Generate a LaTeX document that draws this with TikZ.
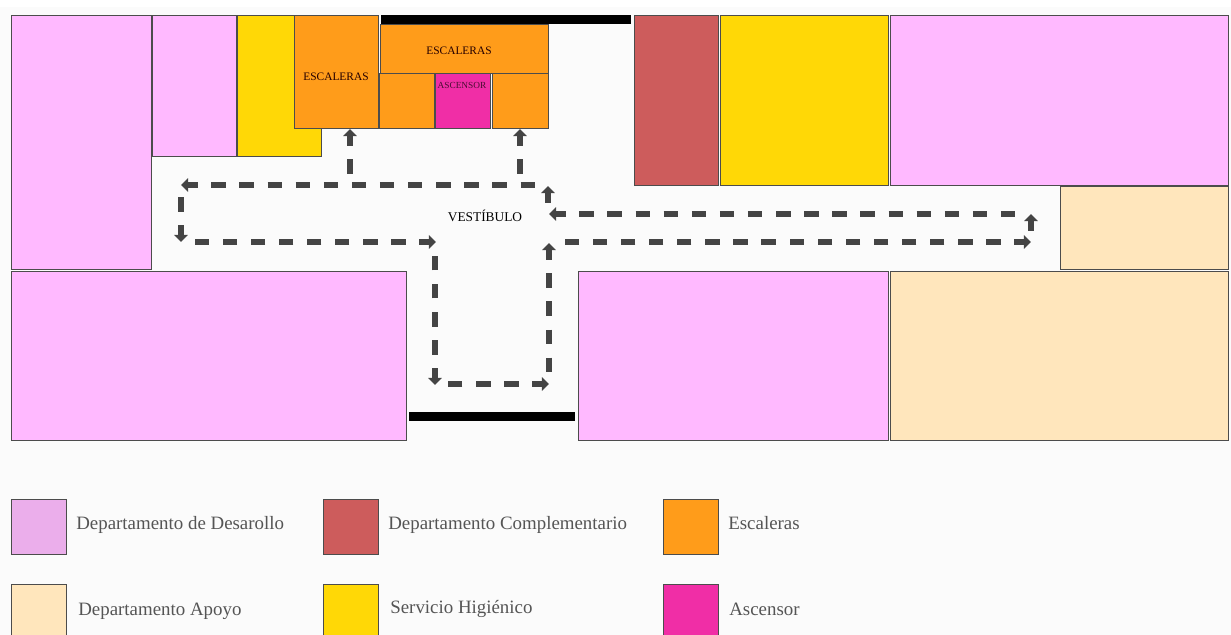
\documentclass[tikz,border=0pt]{standalone}
\usepackage{fontspec}
\setmainfont{Liberation Serif}
\usetikzlibrary{arrows.meta}
\definecolor{desarollo}{HTML}{FFB9FF}
\definecolor{desarolloley}{HTML}{EBAEEB}
\definecolor{complement}{HTML}{CD5C5C}
\definecolor{higienico}{HTML}{FFD806}
\definecolor{escalera}{HTML}{FF9C1A}
\definecolor{ascensor}{HTML}{F02EA6}
\definecolor{apoyo}{HTML}{FFE6BC}
\definecolor{fondo}{HTML}{FBFBFB}
\definecolor{ruta}{HTML}{444444}
\definecolor{leytext}{HTML}{555555}
\begin{document}
\begin{tikzpicture}[x=0.02cm,y=0.02cm]
		\tikzstyle{every node}+=[inner sep=0pt]
		\tikzstyle{room}=[draw=black!70,line width=0.5pt]
		\tikzstyle{wall}=[fill=black]
		\tikzstyle{route}=[draw=ruta,line width=3pt,dash pattern=on 8.2pt off 7.8pt,dash phase=2.5pt,{Triangle[length=4pt,width=7.5pt]}-]
		\tikzstyle{plain}=[font=\fontsize{6.5pt}{8pt}\selectfont,text=black!85!red]
		\tikzstyle{legend}=[anchor=west,font=\fontsize{10.75pt}{12pt}\selectfont,text=leytext]
		\fill [white] (0,0) rectangle (1231,-7);
		\fill [fondo] (0,-7) rectangle (1231,-635);
		\useasboundingbox (0,0) rectangle (1231,-635);
		\clip (0,0) rectangle (1231,-635);
		% departamentos
		\draw [room,fill=desarollo] (11,-15) rectangle (151,-269);
		\draw [room,fill=desarollo] (152,-15) rectangle (236,-156);
		\draw [room,fill=higienico] (237,-15) rectangle (321,-156);
		\draw [room,fill=escalera] (294,-15) rectangle (378,-128);
		\draw [room,fill=escalera] (380,-24) rectangle (548,-73);
		\draw [room,fill=escalera] (379,-73) rectangle (434,-128);
		\draw [room,fill=ascensor] (435,-73) rectangle (490,-128);
		\draw [room,fill=escalera] (492,-73) rectangle (548,-128);
		\draw [room,fill=complement] (634,-15) rectangle (718,-185);
		\draw [room,fill=higienico] (720,-15) rectangle (888,-185);
		\draw [room,fill=desarollo] (890,-15) rectangle (1228,-185);
		\draw [room,fill=apoyo] (1060,-186) rectangle (1228,-269);
		\draw [room,fill=desarollo] (11,-271) rectangle (406,-440);
		\draw [room,fill=desarollo] (578,-271) rectangle (888,-440);
		\draw [room,fill=apoyo] (890,-271) rectangle (1228,-440);
		\fill [wall] (381,-15) rectangle (631,-24);
		\fill [wall] (409,-412) rectangle (575,-421);
		\node [plain] (esc1) at (336,-77) {ESCALERAS};
		\node [plain] (esc2) at (459,-51) {ESCALERAS};
		\node [plain,font=\fontsize{5.3pt}{6pt}\selectfont,text=black!70!ascensor] (asc) at (462,-85) {ASCENSOR};
		\node [plain,font=\fontsize{7.6pt}{9pt}\selectfont,text=black] (vest) at (485,-216) {VESTÍBULO};
		% recorrido
		\coordinate (a1) at (350,-176);
		\coordinate (a2) at (350,-129);
		\coordinate (b1) at (520,-176);
		\coordinate (b2) at (520,-129);
		\coordinate (c1) at (539,-185);
		\coordinate (c2) at (181,-185);
		\coordinate (d1) at (181,-194);
		\coordinate (d2) at (181,-242);
		\coordinate (e1) at (190,-242);
		\coordinate (e2) at (436,-242);
		\coordinate (f1) at (435,-252);
		\coordinate (f2) at (435,-385);
		\coordinate (g1) at (446,-384);
		\coordinate (g2) at (549,-384);
		\coordinate (h1) at (549,-376);
		\coordinate (h2) at (549,-243);
		\coordinate (i1) at (557,-242);
		\coordinate (i2) at (1031,-242);
		\coordinate (j1) at (1031,-235);
		\coordinate (j2) at (1031,-214);
		\coordinate (k1) at (1022,-214);
		\coordinate (k2) at (549,-214);
		\coordinate (l1) at (548,-206);
		\coordinate (l2) at (548,-186);
		\foreach \from/\to in {a1/a2,b1/b2,c1/c2,d1/d2,e1/e2,f1/f2,g1/g2,h1/h2,i1/i2,j1/j2,k1/k2,l1/l2}
			\draw [route] (\to) -- (\from);
		% leyenda
		\draw [room,fill=desarolloley] (11,-499) rectangle (66,-554);
		\draw [room,fill=complement] (323,-499) rectangle (378,-554);
		\draw [room,fill=escalera] (663,-499) rectangle (718,-554);
		\draw [room,fill=apoyo] (11,-584) rectangle (66,-640);
		\draw [room,fill=higienico] (323,-584) rectangle (378,-640);
		\draw [room,fill=ascensor] (663,-584) rectangle (718,-640);
		\node [legend] (ley1) at (76,-525) {Departamento de Desarollo};
		\node [legend] (ley2) at (388,-525) {Departamento Complementario};
		\node [legend] (ley3) at (728,-523) {Escaleras};
		\node [legend] (ley4) at (78,-611) {Departamento Apoyo};
		\node [legend] (ley5) at (390,-609) {Servicio Higiénico};
		\node [legend] (ley6) at (729,-609) {Ascensor};
		\end{tikzpicture}
\end{document}
